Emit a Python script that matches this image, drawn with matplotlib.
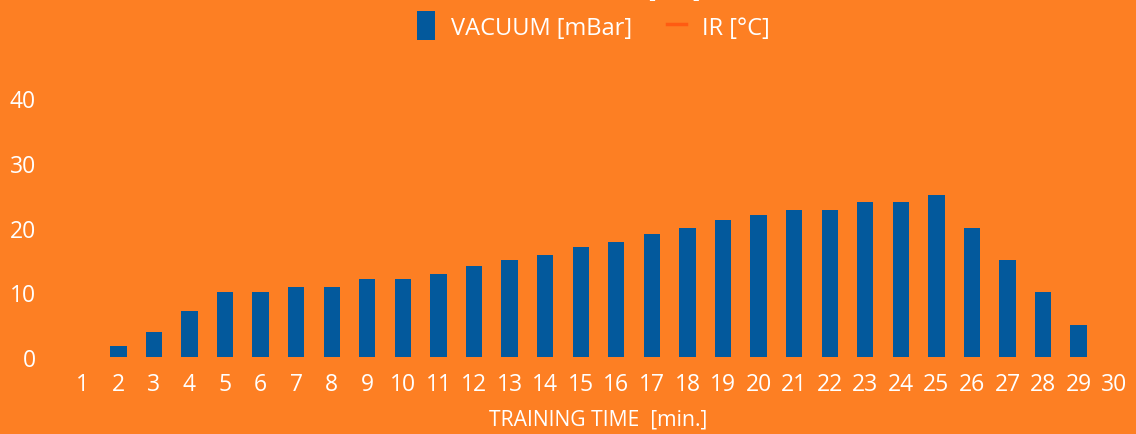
import numpy as np
import matplotlib
import matplotlib.pyplot as plt
from matplotlib.lines import Line2D
from matplotlib.patches import Patch

matplotlib.rcParams['font.family'] = ['Open Sans', 'DejaVu Sans']

# data
minutes = list(range(1, 31))
vacuum = [0, 1.7, 3.9, 7.1, 10, 10, 10.8, 10.8, 12, 12,
          12.8, 14, 15, 15.8, 17, 17.8, 19, 20, 21.2, 22,
          22.7, 22.7, 24, 24, 25, 20, 15, 10, 5, 0]
yticks = [0, 10, 20, 30, 40]

bg = '#FD7F23'
bar_col = '#03599C'
ir_col = '#FF5B12'

fig = plt.figure(figsize=(11.36, 4.35), dpi=100, facecolor=bg)
ax = fig.add_axes([0.0572, 0.177, 0.9393, 0.595])
ax.set_facecolor(bg)

ax.bar(minutes, vacuum, width=0.46, color=bar_col)

ax.set_xlim(0.5, 30.5)
ax.set_ylim(0, 40)
ax.set_xticks(minutes)
ax.set_yticks(yticks)
ax.tick_params(axis='both', length=0, colors='white', labelsize=16.5)
ax.tick_params(axis='y', pad=21)
ax.tick_params(axis='x', pad=11)
for s in ax.spines.values():
    s.set_visible(False)

ax.set_xlabel('TRAINING TIME  [min.]', color='white', fontsize=15.2, labelpad=9)

# legend
handles = [Patch(facecolor=bar_col, edgecolor='none', label='VACUUM [mBar]'),
           Line2D([0], [0], color=ir_col, lw=2.5, label='IR [°C]')]
leg = fig.legend(handles=handles, loc='center', bbox_to_anchor=(0.522, 0.935), ncol=2,
                 frameon=False, fontsize=17, labelcolor='white', handlelength=0.8,
                 handleheight=1.0, columnspacing=1.5, handletextpad=0.65)
# make the square a bit taller like the reference
sq = leg.legend_handles[0]
sq.set_height(sq.get_height() * 1.35)
sq.set_y(sq.get_y() - sq.get_height() * 0.13)

# title clipped off at the top edge
fig.text(0.594, 1.008, '[ °C ]', color='white', fontsize=17, ha='center', va='baseline')

plt.savefig('out.png', facecolor=bg)
